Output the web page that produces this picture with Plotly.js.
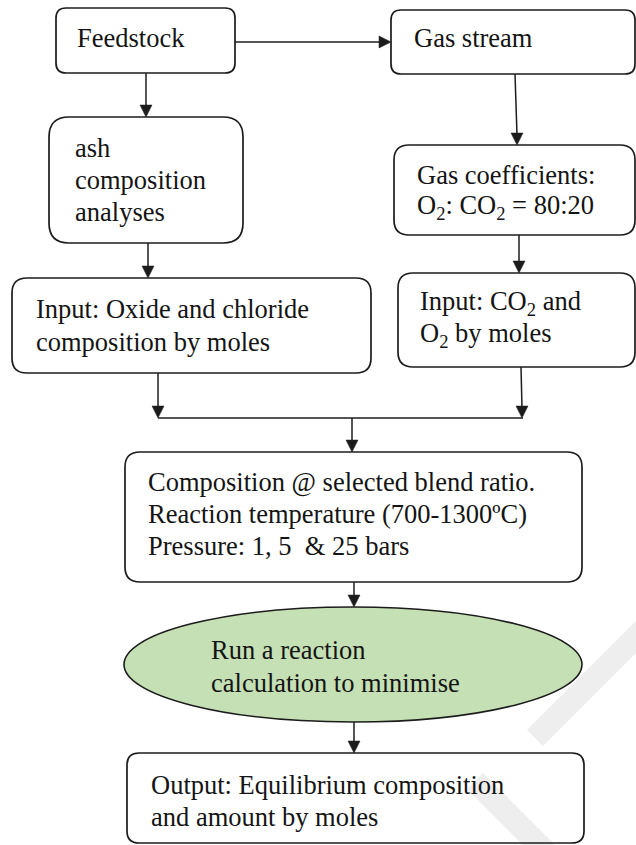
<!DOCTYPE html>
<html>
<head>
<meta charset="utf-8">
<script src="https://cdn.plot.ly/plotly-3.0.1.min.js"></script>
<style>html,body{margin:0;padding:0;background:#fff;}#chart{width:636px;height:845px;}</style>
</head>
<body>
<div id="chart"></div>
<script>
// ---- content (texts of the flowchart, one entry per line) ----
const nodeIds = ["feed", "gas", "ash", "coef", "oxide", "co2", "comp", "run", "out"];
const nodeLines = [
  ["Feedstock"],
  ["Gas stream"],
  ["ash", "composition", "analyses"],
  ["Gas coefficients:", "O<sub>2</sub>: CO<sub>2</sub> = 80:20"],
  ["Input: Oxide and chloride", "composition by moles"],
  ["Input: CO<sub>2</sub> and", "O<sub>2</sub> by moles"],
  ["Composition @ selected blend ratio.", "Reaction temperature (700-1300\u00baC)", "Pressure: 1, 5\u00a0\u00a0& 25 bars"],
  ["Run a reaction", "calculation to minimise"],
  ["Output: Equilibrium composition", "and amount by moles"]
];
const nodeShapes = ["box", "box", "box", "box", "box", "box", "box", "ellipse", "box"];
// connections
const edgeFrom = ["feed", "feed", "gas", "ash", "coef", "oxide", "co2", "join", "comp", "run"];
const edgeTo   = ["gas",  "ash",  "coef", "oxide", "co2", "join", "join", "comp", "run", "out"];

// ---- layout geometry (pixels) ----
const geom = {
  feed:  {x0: 56,  y0: 8,   x1: 235, y1: 73,  r: 10, tx: 75,  ty: 38,  dy: 32},
  gas:   {x0: 391, y0: 10,  x1: 635, y1: 74,  r: 10, tx: 412, ty: 38,  dy: 32},
  ash:   {x0: 49,  y0: 117, x1: 243, y1: 243, r: 20, tx: 73,  ty: 148, dy: 32},
  coef:  {x0: 394, y0: 145, x1: 635, y1: 235, r: 15, tx: 415, ty: 175, dy: 32},
  oxide: {x0: 12,  y0: 278, x1: 371, y1: 373, r: 15, tx: 34,  ty: 309, dy: 33},
  co2:   {x0: 398, y0: 273, x1: 635, y1: 367, r: 15, tx: 418, ty: 303, dy: 32},
  comp:  {x0: 125, y0: 452, x1: 582, y1: 582, r: 15, tx: 146, ty: 482, dy: 32},
  run:   {x0: 124, y0: 607, x1: 582, y1: 722, r: 0,  tx: 209, ty: 650, dy: 33},
  out:   {x0: 127, y0: 753, x1: 584, y1: 843, r: 12, tx: 149, ty: 785, dy: 32}
};
// arrow segments: arrow tip at the last point
const edgeGeom = [
  {pts: [[235, 42], [391, 42]], dir: "right"},
  {pts: [[146, 73], [146, 117]], dir: "down"},
  {pts: [[515, 74], [517, 145]], dir: "down"},
  {pts: [[148, 243], [148, 278]], dir: "down"},
  {pts: [[519, 235], [519, 273]], dir: "down"},
  {pts: [[158, 373], [158, 418]], dir: "down"},
  {pts: [[521, 367], [522, 418]], dir: "down"},
  {pts: [[352, 418], [352, 452]], dir: "down"},
  {pts: [[354, 582], [354, 607]], dir: "down"},
  {pts: [[354, 722], [354, 753]], dir: "down"}
];
const joinLine = [[158, 418], [523, 418]];

const LINE = "#1c1c1c";
const FONT = {family: "Liberation Serif", size: 26.5, color: "#141414"};

function roundRect(g) {
  const {x0, y0, x1, y1, r} = g;
  return `M ${x0 + r},${y0} L ${x1 - r},${y0} Q ${x1},${y0} ${x1},${y0 + r} ` +
         `L ${x1},${y1 - r} Q ${x1},${y1} ${x1 - r},${y1} L ${x0 + r},${y1} ` +
         `Q ${x0},${y1} ${x0},${y1 - r} L ${x0},${y0 + r} Q ${x0},${y0} ${x0 + r},${y0} Z`;
}

const shapes = [];
// faint watermark
shapes.push({type: "path", xref: "x", yref: "y", layer: "below",
  path: "M 650,607 L 527,730 L 543,746 L 650,639 Z",
  fillcolor: "#eeeeee", line: {width: 0}});
shapes.push({type: "path", xref: "x", yref: "y", layer: "below",
  path: "M 467,789 L 483,773 L 560,850 L 544,866 Z",
  fillcolor: "#eeeeee", line: {width: 0}});

nodeIds.forEach((id, i) => {
  const g = geom[id];
  if (nodeShapes[i] === "ellipse") {
    shapes.push({type: "circle", xref: "x", yref: "y", x0: g.x0, x1: g.x1, y0: g.y0, y1: g.y1,
      fillcolor: "#c5e0b4", line: {color: LINE, width: 1.6}});
  } else {
    shapes.push({type: "path", xref: "x", yref: "y", path: roundRect(g),
      line: {color: LINE, width: 1.7}});
  }
});

edgeGeom.forEach(e => {
  const p = e.pts;
  const a = p[0], b = p[p.length - 1];
  let end = b.slice();
  if (e.dir === "down") end = [b[0], b[1] - 10];
  if (e.dir === "right") end = [b[0] - 10, b[1]];
  shapes.push({type: "line", xref: "x", yref: "y", x0: a[0], y0: a[1], x1: end[0], y1: end[1],
    line: {color: LINE, width: 1.5}});
  let tri;
  if (e.dir === "down") tri = `M ${b[0] - 6},${b[1] - 12} L ${b[0] + 6},${b[1] - 12} L ${b[0]},${b[1]} Z`;
  else tri = `M ${b[0] - 12},${b[1] - 6} L ${b[0] - 12},${b[1] + 6} L ${b[0]},${b[1]} Z`;
  shapes.push({type: "path", xref: "x", yref: "y", path: tri, fillcolor: LINE, line: {color: LINE, width: 0.5}});
});
shapes.push({type: "line", xref: "x", yref: "y", x0: joinLine[0][0], y0: joinLine[0][1],
  x1: joinLine[1][0], y1: joinLine[1][1], line: {color: LINE, width: 1.7}});

const annotations = [];
nodeIds.forEach((id, i) => {
  const g = geom[id];
  nodeLines[i].forEach((line, k) => {
    annotations.push({
      x: g.tx, y: g.ty + k * g.dy, xref: "x", yref: "y",
      text: line, showarrow: false, xanchor: "left", yanchor: "middle",
      align: "left", font: FONT
    });
  });
});

const layout = {
  width: 636, height: 845,
  margin: {l: 0, r: 0, t: 0, b: 0},
  paper_bgcolor: "#ffffff", plot_bgcolor: "#ffffff",
  font: {family: "Liberation Serif"},
  xaxis: {range: [0, 636], visible: false, fixedrange: true},
  yaxis: {range: [845, 0], visible: false, fixedrange: true},
  showlegend: false,
  shapes: shapes,
  annotations: annotations
};

Plotly.newPlot("chart", [], layout, {staticPlot: true, displayModeBar: false});
</script>
</body>
</html>
